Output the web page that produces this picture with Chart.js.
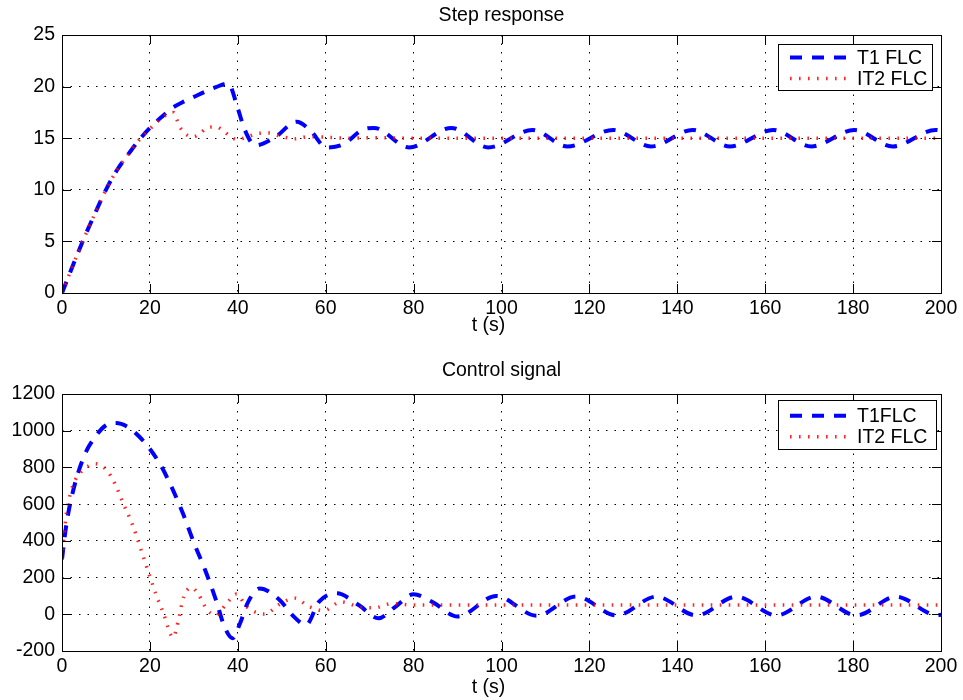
<!DOCTYPE html>
<html><head><meta charset="utf-8">
<script src="https://cdn.jsdelivr.net/npm/chart.js@4.4.1/dist/chart.umd.min.js"></script>
<style>
html,body{margin:0;padding:0;background:#fff;}
#wrap{position:relative;width:963px;height:700px;overflow:hidden;}
.box{position:absolute;left:0;width:963px;height:350px;}
</style></head><body>
<div id="wrap">
<div class="box" style="top:0"><canvas id="c1"></canvas></div>
<div class="box" style="top:350px"><canvas id="c2"></canvas></div>
</div>
<script>
// ---------- data ----------
const stepTitle = 'Step response';
const ctrlTitle = 'Control signal';
const xAxisLabel = 't (s)';
const stepLegend = ['T1 FLC', 'IT2 FLC'];
const ctrlLegend = ['T1FLC', 'IT2 FLC'];

const stepT1Time = [0, 2.5, 5, 7.5, 10, 12.5, 15, 17.5, 20, 22.5, 25, 27.5, 30, 32.5, 35, 37.8, 40, 41.5, 44, 48.5, 53.4, 56.4, 60.2, 64, 68.3, 71, 79, 88.6, 97, 107, 115, 125.4, 134, 143.5, 152, 161.8, 170.5, 180.3, 189, 198.8, 200];
const stepT1 = [0, 2.7, 5.3, 7.7, 10, 11.9, 13.4, 14.8, 16, 17, 17.9, 18.5, 19, 19.5, 19.95, 20.3, 17.9, 15.9, 14.3, 15.1, 16.6, 15.8, 14.1, 14.4, 15.8, 16.0, 14.1, 16.0, 14.1, 15.8, 14.2, 15.8, 14.2, 15.8, 14.2, 15.8, 14.2, 15.8, 14.2, 15.8, 15.75];

const stepIT2Time = [0, 2.5, 5, 7.5, 10, 12.5, 15, 17.5, 20, 22.5, 25.3, 26.8, 28.5, 30, 31.5, 33, 35, 37, 38.5, 40, 42, 44.5, 47, 50, 53, 56, 60, 65, 70, 80, 200];
const stepIT2 = [0, 2.7, 5.3, 7.7, 10, 11.9, 13.4, 14.8, 15.9, 16.9, 17.5, 16.1, 15.3, 15.15, 15.5, 16.0, 16.1, 15.6, 15.1, 14.85, 15.1, 15.45, 15.5, 15.15, 14.95, 15.15, 15.1, 15.0, 15.05, 15.0, 15.0];

const ctrlT1Time = [0, 1, 2.5, 5, 7.5, 10, 12.3, 15, 17.5, 20, 22.5, 25, 27.5, 30, 32.5, 35, 37, 38.8, 40.5, 42.3, 45, 49.4, 52.6, 55.5, 58.5, 62.5, 67.6, 72, 75.7, 80, 84.4, 90, 98.8, 108, 117, 126.2, 135.2, 144.4, 153.4, 162.6, 171.6, 180.8, 189.8, 199, 200];
const ctrlT1 = [300, 490, 670, 860, 965, 1030, 1042, 1020, 970, 900, 810, 690, 550, 390, 245, 80, -70, -130, -50, 65, 141, 80, -9, -58, 69, 114, 49, -22, 38, 109, 65, -12, 100, -8, 97, -6, 96, -6, 96, -6, 96, -6, 96, -4, -3];

const ctrlIT2Time = [0, 1, 2, 3, 5, 7.5, 10, 12, 14, 16, 18, 20, 21.5, 23, 25.3, 26.5, 27.7, 29.5, 31, 33, 35, 37.5, 39.7, 42, 46, 50, 53, 56, 59.5, 63.5, 68, 71, 75, 80, 200];
const ctrlIT2 = [300, 550, 665, 731, 790, 820, 790, 713, 600, 490, 350, 205, 100, 10, -125, -30, 96, 145, 110, 25, -5, 60, 110, 41, 2, 62, 88, 45, 20, 68, 38, 35, 58, 50, 50];

const xTicks = {min: 0, max: 200, step: 20};
const stepYTicks = {min: 0, max: 25, step: 5};
const ctrlYTicks = {min: -200, max: 1200, step: 200};

// ---------- rendering ----------
const FONT = "'Liberation Sans', Arial, Helvetica, sans-serif";
const FS = 19.5;
const pts = (xs, ys) => xs.map((x, i) => ({x: x, y: ys[i]}));

const framePlugin = {
  id: 'matlabFrame',
  afterDraw(chart, args, opts) {
    const {ctx, chartArea: a, scales} = chart;
    const L = Math.round(a.left), R = Math.round(a.right), T = Math.round(a.top), B = Math.round(a.bottom);
    ctx.save();
    ctx.setLineDash([]);
    ctx.strokeStyle = '#000';
    ctx.lineWidth = 1;
    const seg = (x1, y1, x2, y2) => { ctx.beginPath(); ctx.moveTo(x1, y1); ctx.lineTo(x2, y2); ctx.stroke(); };
    const TL = 9;
    scales.x.ticks.forEach(t => {
      const x = Math.round(scales.x.getPixelForValue(t.value)) + 0.5;
      seg(x, B, x, B - TL); seg(x, T, x, T + TL);
    });
    scales.y.ticks.forEach(t => {
      const y = Math.round(scales.y.getPixelForValue(t.value)) + 0.5;
      seg(L, y, L + TL, y); seg(R, y, R - TL, y);
    });
    ctx.strokeRect(L + 0.5, T + 0.5, R - L, B - T);
    // x axis label
    ctx.fillStyle = '#000';
    ctx.font = FS + 'px ' + FONT;
    ctx.textBaseline = 'middle';
    ctx.textAlign = 'center';
    ctx.fillText(opts.xLabel, (L + R) / 2 - 13, opts.xLabelY);
    // legend box
    const lg = opts.legend;
    if (lg) {
      const [bl, bt, br, bb] = lg.box;
      ctx.fillStyle = '#fff';
      ctx.fillRect(bl, bt, br - bl, bb - bt);
      ctx.strokeRect(bl + 0.5, bt + 0.5, br - bl, bb - bt);
      chart.data.datasets.forEach((ds, i) => {
        const y = lg.rows[i];
        ctx.save();
        ctx.strokeStyle = ds.borderColor;
        ctx.lineWidth = ds.borderWidth;
        ctx.setLineDash(ds.borderDash);
        seg(lg.lineX[0], y, lg.lineX[1], y);
        ctx.restore();
        ctx.fillStyle = '#000';
        ctx.textAlign = 'left';
        ctx.fillText(ds.label, lg.textX, y + 1);
      });
    }
    ctx.restore();
  }
};

function makeChart(id, cfg) {
  const blue = {
    label: cfg.legend[0], data: pts(cfg.t1x, cfg.t1y),
    borderColor: '#0000ff', borderWidth: 4, borderDash: [12, 10], borderCapStyle: 'butt',
    pointRadius: 0, fill: false, cubicInterpolationMode: 'monotone', order: 1
  };
  const red = {
    label: cfg.legend[1], data: pts(cfg.t2x, cfg.t2y),
    borderColor: 'rgba(255,0,0,0.85)', borderWidth: 3.5, borderDash: [1.6, 7.4], borderCapStyle: 'butt',
    pointRadius: 0, fill: false, cubicInterpolationMode: 'monotone', order: 0
  };
  return new Chart(document.getElementById(id), {
    type: 'line',
    data: {datasets: [blue, red]},
    plugins: [framePlugin],
    options: {
      responsive: true, maintainAspectRatio: false, animation: false, devicePixelRatio: 1,
      layout: {padding: {left: 0, right: 22, top: 0, bottom: 0}},
      plugins: {
        legend: {display: false}, tooltip: {enabled: false},
        title: {display: true, fullSize: false, text: cfg.title, color: '#000', font: {family: FONT, size: FS, weight: 'normal'}, padding: cfg.titlePad},
        matlabFrame: {legend: cfg.legendBox, xLabel: xAxisLabel, xLabelY: cfg.xLabelY}
      },
      scales: {
        x: {
          type: 'linear', min: xTicks.min, max: xTicks.max,
          ticks: {stepSize: xTicks.step, color: '#000', font: {family: FONT, size: FS}, padding: 4, maxRotation: 0, callback: v => String(v)},
          grid: {color: '#000', lineWidth: 1, drawTicks: false},
          border: {display: false, dash: [1.5, 7]},
          afterFit: s => { s.height = cfg.xHeight; }
        },
        y: {
          type: 'linear', min: cfg.yt.min, max: cfg.yt.max,
          ticks: {stepSize: cfg.yt.step, color: '#000', font: {family: FONT, size: FS}, padding: 7, callback: v => String(v)},
          grid: {color: '#000', lineWidth: 1, drawTicks: false},
          border: {display: false, dash: [1.5, 7]},
          afterFit: s => { s.width = 62; }
        }
      }
    }
  });
}

makeChart('c1', {
  title: stepTitle, legend: stepLegend, titlePad: {top: 4.3, bottom: 7.3},
  t1x: stepT1Time, t1y: stepT1, t2x: stepIT2Time, t2y: stepIT2,
  yt: stepYTicks, xHeight: 57, xLabelY: 326,
  legendBox: {box: [778, 44, 932, 90], rows: [57.5, 78.5], lineX: [790, 848], textX: 857}
});
makeChart('c2', {
  title: ctrlTitle, legend: ctrlLegend, titlePad: {top: 9.3, bottom: 11.3},
  t1x: ctrlT1Time, t1y: ctrlT1, t2x: ctrlIT2Time, t2y: ctrlIT2,
  yt: ctrlYTicks, xHeight: 49, xLabelY: 338,
  legendBox: {box: [778, 50, 936, 99], rows: [65.7, 86.7], lineX: [790, 848], textX: 857}
});
</script>
</body></html>
